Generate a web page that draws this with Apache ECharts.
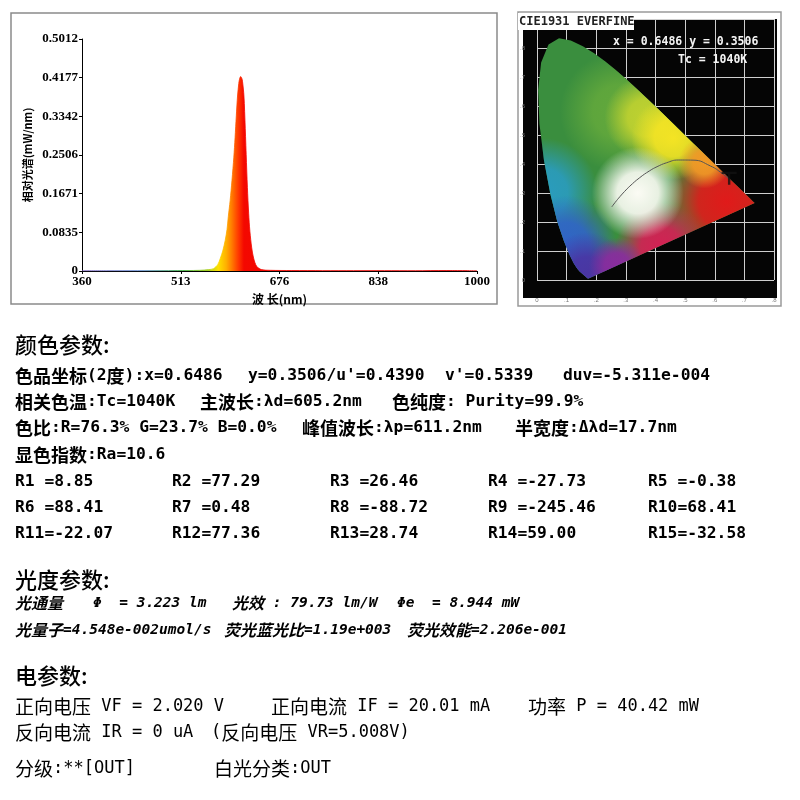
<!DOCTYPE html>
<html>
<head>
<meta charset="utf-8">
<script src="https://cdn.jsdelivr.net/npm/echarts@6/dist/echarts.min.js"></script>
<style>
  html, body { margin: 0; padding: 0; background: #fff; }
  #main { width: 800px; height: 800px; }
</style>
</head>
<body>
<div id="main"></div>
<script>
// 光谱 (相对光谱 mW/nm)
const wavelengths = [360, 400, 450, 500, 530, 551, 565, 573, 580, 584, 588, 592, 595, 597, 600, 603, 606, 608, 610, 612, 614, 615, 617, 619, 620, 622, 623, 625, 626, 628, 630, 632, 635, 638, 643, 651, 665, 700, 750, 800, 850, 900, 950, 1000]
const intensity   = [0.0005, 0.0005, 0.0005, 0.0008, 0.001, 0.0015, 0.003, 0.005, 0.014, 0.027, 0.043, 0.066, 0.090, 0.117, 0.152, 0.196, 0.246, 0.288, 0.335, 0.378, 0.405, 0.413, 0.420, 0.416, 0.410, 0.385, 0.362, 0.290, 0.252, 0.180, 0.125, 0.086, 0.050, 0.028, 0.010, 0.003, 0.0015, 0.001, 0.0008, 0.0008, 0.0008, 0.0006, 0.001, 0.0006]
const xTickLabels = ['360', '513', '676', '838', '1000']
const yTickLabels = ['0', '0.0835', '0.1671', '0.2506', '0.3342', '0.4177', '0.5012']
const yMax = 0.5012

// CIE1931 光谱轨迹 (380-700nm)
const locusX = [0.1741, 0.1733, 0.1714, 0.1689, 0.1644, 0.1566, 0.1440, 0.1355, 0.1241, 0.1096, 0.0913, 0.0687, 0.0454, 0.0235, 0.0082, 0.0039, 0.0139, 0.0389, 0.0743, 0.1142, 0.1547, 0.1929, 0.2296, 0.2658, 0.3016, 0.3373, 0.3731, 0.4087, 0.4441, 0.4788, 0.5125, 0.5448, 0.5752, 0.6029, 0.6270, 0.6658, 0.6915, 0.7079, 0.7190, 0.7300, 0.7347]
const locusY = [0.0050, 0.0048, 0.0051, 0.0069, 0.0109, 0.0177, 0.0297, 0.0399, 0.0578, 0.0868, 0.1327, 0.2007, 0.2950, 0.4127, 0.5384, 0.6548, 0.7502, 0.8120, 0.8338, 0.8262, 0.8059, 0.7816, 0.7543, 0.7243, 0.6923, 0.6589, 0.6245, 0.5896, 0.5547, 0.5202, 0.4866, 0.4544, 0.4242, 0.3965, 0.3725, 0.3340, 0.3083, 0.2920, 0.2809, 0.2700, 0.2653]
const planckX = [0.6528, 0.6251, 0.5857, 0.5267, 0.4770, 0.4369, 0.4053, 0.3805, 0.3451, 0.3135, 0.2952, 0.2807, 0.2637, 0.2525]
const planckY = [0.3444, 0.3674, 0.3931, 0.4133, 0.4137, 0.4041, 0.3907, 0.3768, 0.3516, 0.3237, 0.3048, 0.2884, 0.2674, 0.2522]
const measured = [0.6486, 0.3506]

// 显色指数 R1..R15
const cri = [8.85, 77.29, 26.46, -27.73, -0.38, 88.41, 0.48, -88.72, -245.46, 68.41, -22.07, 77.36, 28.74, 59.00, -32.58]

// 色度图着色: 色块中心 (x, y), 半径 px, 颜色
const tints = [
  { at: [0.28, 0.58], r: 60, color: '#62a83c' },
  { at: [0.02, 0.30], r: 55, color: '#2a9cc0' },
  { at: [0.10, 0.12], r: 50, color: '#3064c8' },
  { at: [0.17, 0.01], r: 45, color: '#4a34a4' },
  { at: [0.64, 0.27], r: 62, color: '#e01a1a' },
  { at: [0.42, 0.11], r: 46, color: '#d42054' },
  { at: [0.27, 0.05], r: 28, color: '#8a2c9e' },
  { at: [0.37, 0.56], r: 42, color: '#c0d230' },
  { at: [0.46, 0.49], r: 42, color: '#f4e424' },
  { at: [0.565, 0.405], r: 26, color: '#f29a26' },
  { at: [0.34, 0.30], r: 46, color: '#fbfbf4' }
]

const chart = echarts.init(document.getElementById('main'), null, { renderer: 'canvas' })

const CJK = /[\u3000-\u9fff\uff00-\uffef]/
function rich(s) {
  return s.split(/([\u3000-\u9fff\uff00-\uffef]+)/).filter(p => p.length)
    .map(p => CJK.test(p) ? '{c|' + p + '}' : '{l|' + p + '}').join('')
}
const bodyRich = {
  c: { fontFamily: 'Noto Sans CJK SC', fontSize: 18, fontWeight: 'bold', fill: '#000' },
  l: { fontFamily: 'DejaVu Sans Mono', fontSize: 16.3, fontWeight: 'bold', fill: '#000' }
}
const photoRich = {
  c: { fontFamily: 'Noto Sans CJK SC', fontSize: 16, fontWeight: 'bold', fontStyle: 'italic', fill: '#000' },
  l: { fontFamily: 'DejaVu Sans Mono', fontSize: 14.5, fontWeight: 'bold', fontStyle: 'italic', fill: '#000' }
}
const elecRich = {
  c: { fontFamily: 'Noto Sans CJK SC', fontSize: 19, fontWeight: 'normal', fill: '#000' },
  l: { fontFamily: 'DejaVu Sans Mono', fontSize: 17, fontWeight: 'normal', fill: '#000' }
}
function txt(x, y, s, r) {
  return { type: 'text', x: x, y: y, z: 100, silent: true,
    style: { text: rich(s), rich: r, verticalAlign: 'middle', align: 'left' } }
}
function heading(x, y, s) {
  return { type: 'text', x: x, y: y, z: 100, silent: true,
    style: { text: s, font: '500 22px "Noto Sans CJK SC"', fill: '#000', verticalAlign: 'middle' } }
}

const texts = [
  heading(15, 345, '颜色参数:'),
  txt(15, 376, '色品坐标(2度):x=0.6486', bodyRich),
  txt(248, 376, "y=0.3506/u'=0.4390", bodyRich),
  txt(445, 376, "v'=0.5339", bodyRich),
  txt(563, 376, 'duv=-5.311e-004', bodyRich),
  txt(15, 402, '相关色温:Tc=1040K', bodyRich),
  txt(200, 402, '主波长:λd=605.2nm', bodyRich),
  txt(392, 402, '色纯度: Purity=99.9%', bodyRich),
  txt(15, 428, '色比:R=76.3% G=23.7% B=0.0%', bodyRich),
  txt(302, 428, '峰值波长:λp=611.2nm', bodyRich),
  txt(515, 428, '半宽度:Δλd=17.7nm', bodyRich),
  txt(15, 455, '显色指数:Ra=10.6', bodyRich),
  heading(15, 580, '光度参数:'),
  txt(15, 603, '光通量', photoRich),
  txt(93, 603, 'Φ  = 3.223 lm', photoRich),
  txt(232, 603, '光效 : 79.73 lm/W', photoRich),
  txt(397, 603, 'Φe  = 8.944 mW', photoRich),
  txt(15, 630, '光量子=4.548e-002umol/s', photoRich),
  txt(224, 630, '荧光蓝光比=1.19e+003', photoRich),
  txt(407, 630, '荧光效能=2.206e-001', photoRich),
  heading(15, 676, '电参数:'),
  txt(15, 707, '正向电压 VF = 2.020 V', elecRich),
  txt(271, 707, '正向电流 IF = 20.01 mA', elecRich),
  txt(528, 707, '功率 P = 40.42 mW', elecRich),
  txt(15, 733, '反向电流 IR = 0 uA', elecRich),
  txt(211, 733, '(反向电压 VR=5.008V)', elecRich),
  txt(15, 769, '分级:**[OUT]', elecRich),
  txt(214, 769, '白光分类:OUT', elecRich)
]
const criCols = [15, 172, 330, 488, 648]
const criRows = [482, 508, 534]
cri.forEach((v, i) => {
  const name = 'R' + (i + 1) + (i < 9 ? ' =' : '=')
  texts.push(txt(criCols[i % 5], criRows[Math.floor(i / 5)], name + v.toFixed(2), bodyRich))
})

const frames = [
  { type: 'rect', z: -2, silent: true, shape: { x: 11, y: 13, width: 486, height: 291 },
    style: { fill: '#fff', stroke: '#8a8a8a', lineWidth: 1.5 } },
  { type: 'rect', z: -2, silent: true, shape: { x: 518, y: 12, width: 263, height: 294 },
    style: { fill: '#fff', stroke: '#9a9a9a', lineWidth: 1.5 } },
  { type: 'rect', z: -1, silent: true, shape: { x: 523, y: 19, width: 254, height: 279 },
    style: { fill: '#050505' } },
  { type: 'rect', z: 90, silent: true, shape: { x: 518, y: 13, width: 116, height: 17 },
    style: { fill: '#fff' } },
  { type: 'text', z: 100, silent: true, x: 519, y: 22,
    style: { text: 'CIE1931 EVERFINE', font: 'bold 12px "DejaVu Sans Mono"', fill: '#222', verticalAlign: 'middle' } },
  { type: 'text', z: 100, silent: true, x: 613, y: 42,
    style: { text: 'x = ' + measured[0].toFixed(4) + ' y = ' + measured[1].toFixed(4), font: 'bold 11.5px "DejaVu Sans Mono"', fill: '#f4f4f4', verticalAlign: 'middle' } },
  { type: 'text', z: 100, silent: true, x: 678, y: 60,
    style: { text: 'Tc = 1040K', font: 'bold 11.5px "DejaVu Sans Mono"', fill: '#f4f4f4', verticalAlign: 'middle' } }
]

const spectrumGradient = new echarts.graphic.LinearGradient(0, 0, 1, 0, [
  { offset: 0, color: '#7a5ab8' },
  { offset: 0.15, color: '#4a78c8' },
  { offset: 0.26, color: '#40b040' },
  { offset: 0.32, color: '#a8d020' },
  { offset: 0.345, color: '#ffe000' },
  { offset: 0.365, color: '#ffb000' },
  { offset: 0.38, color: '#ff7800' },
  { offset: 0.395, color: '#ff3c00' },
  { offset: 0.41, color: '#f40800' },
  { offset: 1, color: '#e00000' }
])

const tickFont = { fontFamily: 'Liberation Serif', fontWeight: 'bold', fontSize: 13, color: '#000' }
const cieLabel = v => v === 0 ? '0' : '.' + Math.round(v * 10)
const alpha = echarts.color.modifyAlpha

chart.setOption({
  backgroundColor: '#fff',
  animation: false,
  graphic: { elements: frames.concat(texts) },
  grid: [
    { left: 82, top: 39, width: 395, height: 232 },
    { left: 537, top: 19, width: 237, height: 261 }
  ],
  xAxis: [{
    gridIndex: 0, type: 'value', min: 360, max: 1000, interval: 160,
    name: '波 长(nm)', nameLocation: 'middle', nameGap: 22,
    nameTextStyle: { fontFamily: 'Noto Sans CJK SC', fontWeight: 'bold', fontSize: 12, color: '#000' },
    axisLine: { lineStyle: { color: '#000', width: 1 } },
    axisTick: { length: 3, lineStyle: { color: '#000' } },
    axisLabel: Object.assign({ margin: 4, formatter: v => xTickLabels[Math.round((v - 360) / 160)] }, tickFont),
    splitLine: { show: false }
  }, {
    gridIndex: 1, type: 'value', min: 0, max: 0.8, interval: 0.1,
    axisLine: { show: false }, axisTick: { show: false },
    axisLabel: { fontSize: 6, color: '#777', margin: 17, formatter: cieLabel },
    splitLine: { lineStyle: { color: '#cfcfcf', width: 1 } }
  }],
  yAxis: [{
    gridIndex: 0, type: 'value', min: 0, max: yMax, interval: yMax / 6,
    name: '相对光谱(mW/nm)', nameLocation: 'middle', nameGap: 49,
    nameTextStyle: { fontFamily: 'Noto Sans CJK SC', fontWeight: 'bold', fontSize: 11, color: '#000' },
    axisLine: { show: true, lineStyle: { color: '#000', width: 1 } },
    axisTick: { show: true, length: 3, lineStyle: { color: '#000' } },
    axisLabel: Object.assign({ margin: 4, formatter: v => yTickLabels[Math.round(v / yMax * 6)] }, tickFont),
    splitLine: { show: false }
  }, {
    gridIndex: 1, type: 'value', min: 0, max: 0.9, interval: 0.1,
    axisLine: { show: false }, axisTick: { show: false },
    axisLabel: { fontSize: 6, color: '#777', margin: 12, formatter: cieLabel },
    splitLine: { lineStyle: { color: '#cfcfcf', width: 1 } }
  }],
  series: [{
    type: 'line',
    xAxisIndex: 0, yAxisIndex: 0,
    data: wavelengths.map((w, i) => [w, intensity[i]]),
    smooth: 0.3,
    showSymbol: false,
    lineStyle: { color: spectrumGradient, width: 0.8 },
    areaStyle: { color: spectrumGradient, opacity: 1 },
    silent: true
  }, {
    // 色度图马蹄形, 底色绿 + 各色块径向渐变叠加
    type: 'custom',
    xAxisIndex: 1, yAxisIndex: 1,
    data: [[0]],
    clip: false,
    silent: true,
    z: 2,
    renderItem: function (params, api) {
      const pts = locusX.map((x, i) => api.coord([x, locusY[i]]))
      const children = [{
        type: 'polygon', shape: { points: pts },
        style: { fill: '#3a8e3e' }
      }]
      tints.forEach(t => {
        const c = api.coord(t.at)
        children.push({
          type: 'polygon', shape: { points: pts },
          style: {
            fill: new echarts.graphic.RadialGradient(c[0], c[1], t.r, [
              { offset: 0, color: alpha(t.color, 1) },
              { offset: 0.45, color: alpha(t.color, 0.9) },
              { offset: 1, color: alpha(t.color, 0) }
            ], true)
          }
        })
      })
      return { type: 'group', children: children }
    }
  }, {
    type: 'line',
    xAxisIndex: 1, yAxisIndex: 1,
    data: planckX.map((x, i) => [x, planckY[i]]),
    smooth: true,
    showSymbol: false,
    lineStyle: { color: '#555', width: 1 },
    z: 4,
    silent: true
  }, {
    type: 'scatter',
    xAxisIndex: 1, yAxisIndex: 1,
    data: [measured],
    symbol: 'path://M0,0H10V1.6H5.8V10H4.2V1.6H0Z',
    symbolSize: [15, 13],
    itemStyle: { color: '#111' },
    z: 5,
    silent: true
  }]
})
</script>
</body>
</html>
